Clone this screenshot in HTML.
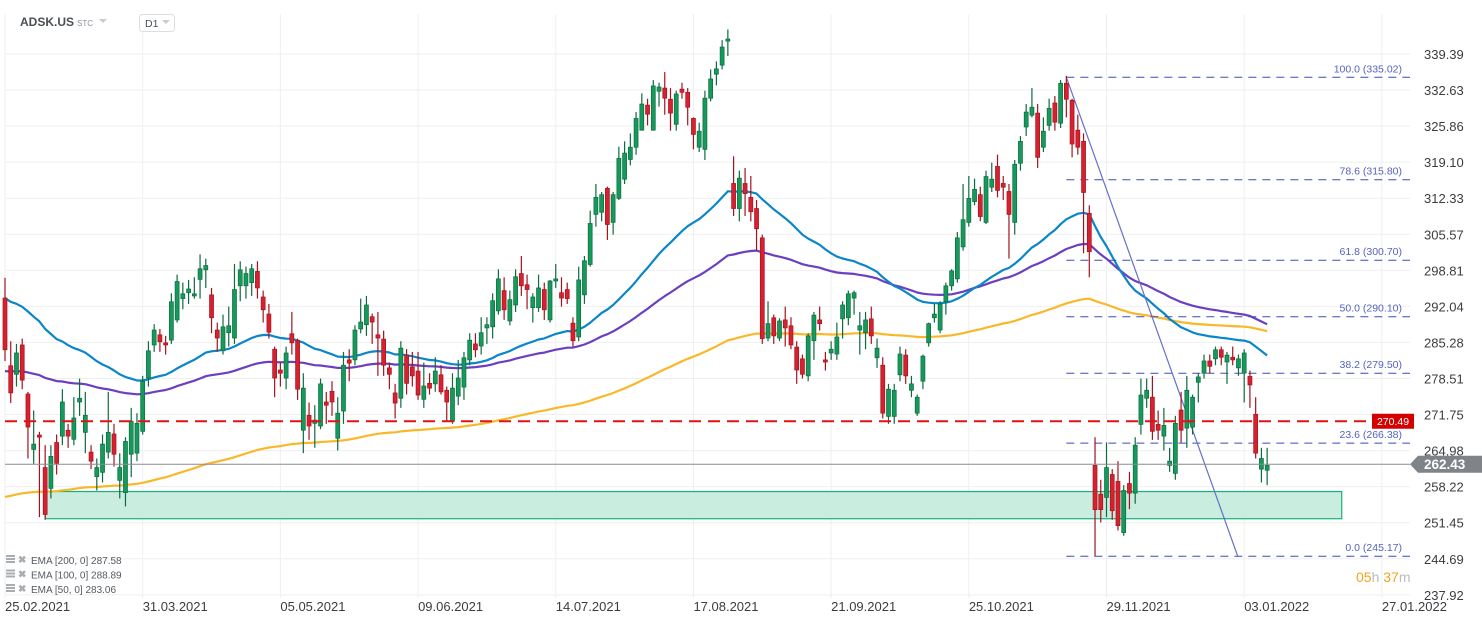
<!DOCTYPE html>
<html><head><meta charset="utf-8">
<style>
html,body{margin:0;padding:0;background:#fff;}
body{width:1482px;height:622px;overflow:hidden;font-family:"Liberation Sans",sans-serif;}
svg text{font-family:"Liberation Sans",sans-serif;}
</style></head>
<body>
<svg id="chart" width="1482" height="622" viewBox="0 0 1482 622" xmlns="http://www.w3.org/2000/svg">
  <g id="grid"></g>
  <g id="zone"></g>
  <g id="emas"></g>
  <g id="fib"></g>
  <g id="candles"></g>
  <g id="levels"></g>
  <g id="yaxis"></g>
  <g id="xaxis"></g>
  <g>
    <text x="20" y="26" font-size="12" font-weight="bold" fill="#4a4f55">ADSK.US</text>
    <text x="77" y="26" font-size="8" fill="#8a9098">STC</text>
    <path d="M99 19 L107 19 L103 23 Z" fill="#c8ccd0"/>
    <rect x="139.5" y="14.5" width="35" height="17" rx="3" fill="#fff" stroke="#dcdfe2"/>
    <text x="145" y="27" font-size="10.5" fill="#4a4f55">D1</text>
    <path d="M162 20 L170 20 L166 24 Z" fill="#c8ccd0"/>
  </g>
  <g id="legend"></g>
  <g>
    <text x="1356" y="582" font-size="14"><tspan fill="#f5a31a">05</tspan><tspan fill="#b8bcc0">h </tspan><tspan fill="#f5a31a">37</tspan><tspan fill="#b8bcc0">m</tspan></text>
  </g>
</svg>
<script>
const opens=[293.6,280.9,279.3,284.8,275.6,265.2,267.9,261.8,257.9,266.5,267.7,268.8,267.1,274.1,268.4,264.7,260.1,260.9,264.7,268.1,259.4,257.1,264.3,264.5,268.6,278.6,284.8,286.7,285.2,285.7,289.5,293.5,294.6,294.0,297.1,298.9,294.2,287.6,283.7,287.1,286.1,295.9,295.9,296.5,298.6,293.8,290.6,284.0,280.1,278.6,286.9,285.6,268.8,271.6,270.1,269.6,274.1,276.1,267.3,272.4,282.0,282.0,287.8,288.6,290.1,286.7,285.9,280.5,275.8,274.8,282.9,280.7,279.9,274.6,277.6,277.5,279.2,276.3,270.5,275.2,276.9,282.0,285.0,284.6,288.0,288.2,291.2,295.0,289.3,292.3,298.2,296.1,291.8,291.8,295.2,289.5,296.8,294.6,295.2,288.9,286.3,294.2,299.9,309.3,309.7,314.2,307.8,312.3,315.9,319.6,321.9,325.1,329.8,325.1,332.4,333.0,330.9,326.2,332.8,332.2,327.3,321.9,321.5,331.1,335.6,337.3,341.8,315.1,310.4,315.1,312.5,310.4,304.9,286.1,289.9,286.1,289.5,288.4,284.4,282.2,279.0,285.6,289.5,282.0,283.3,283.1,289.7,289.9,293.6,287.6,287.1,289.7,282.4,281.0,271.4,271.4,279.2,282.9,276.3,272.0,278.0,285.2,289.9,287.6,292.9,295.9,297.2,303.2,307.8,311.7,313.0,307.8,314.4,318.3,315.1,313.6,307.8,318.9,325.7,327.9,328.3,321.9,326.0,330.2,326.4,333.9,330.7,325.1,323.0,309.5,262.2,256.8,256.2,260.5,259.2,249.6,258.8,257.0,269.9,274.8,275.0,269.9,267.7,262.2,260.7,272.6,269.2,269.4,277.8,279.5,281.8,282.2,283.9,281.6,282.5,280.5,279.5,278.9,271.8,261.5,261.3];
const closes=[283.9,275.8,283.3,278.2,269.4,266.2,267.5,253.0,263.9,262.6,274.1,267.7,271.1,274.8,271.6,263.0,261.8,266.2,268.4,264.3,261.8,266.7,270.5,270.1,278.0,283.7,287.6,285.4,284.8,292.9,296.7,294.4,295.3,294.4,299.1,299.7,289.9,286.1,288.2,288.4,295.2,298.9,298.2,299.1,295.5,291.4,287.2,278.6,279.5,283.3,285.2,276.5,276.7,269.6,270.7,277.5,273.5,274.1,272.0,281.0,281.4,287.6,289.1,292.3,289.1,286.1,281.0,279.3,273.9,284.2,277.6,279.0,275.4,277.1,276.7,279.9,276.0,274.1,276.7,278.6,282.4,285.7,283.9,287.1,288.6,293.1,297.2,291.4,293.3,297.6,295.9,295.2,293.8,295.5,291.4,296.8,297.2,293.6,293.5,285.6,297.0,300.6,307.6,312.5,313.0,307.4,313.0,319.8,320.8,321.9,327.3,330.0,328.1,333.4,333.2,331.1,328.3,331.9,332.2,329.4,324.3,324.9,331.1,334.7,336.6,340.7,342.2,310.4,316.1,313.2,309.8,306.6,286.0,288.8,286.5,289.3,288.0,284.8,280.1,279.3,286.5,290.4,288.8,281.6,284.0,286.3,292.3,294.4,294.6,288.4,289.5,286.5,284.2,272.0,276.5,276.3,283.1,279.0,277.5,275.0,282.7,288.8,290.6,292.5,295.9,298.7,304.9,308.3,312.3,314.0,308.9,316.4,315.9,313.8,314.4,309.3,318.7,323.0,328.5,329.4,320.0,324.9,329.2,326.6,333.9,330.9,322.5,321.9,313.4,302.3,253.9,253.9,261.8,253.7,250.9,257.5,257.0,266.0,275.4,276.3,268.6,268.8,269.7,263.0,270.1,268.8,276.3,275.0,278.8,281.8,280.8,283.9,282.5,282.9,282.0,282.2,283.3,277.3,264.5,263.5,262.2];
const highs=[297.4,285.5,285.0,286.0,276.0,272.5,268.5,266.0,266.0,268.0,276.5,270.0,275.0,278.5,276.0,266.0,263.5,268.0,276.0,270.0,264.5,267.5,273.0,272.0,279.0,285.5,288.7,287.8,286.5,294.5,298.0,296.5,297.0,297.5,301.8,301.0,295.5,289.0,290.5,292.0,300.0,300.5,299.5,300.0,300.5,295.0,292.5,284.5,281.5,284.5,291.0,286.0,279.5,274.0,273.5,278.5,276.0,278.0,275.0,283.5,284.0,288.5,293.5,294.0,290.7,291.0,287.5,281.5,277.5,285.5,284.0,283.5,283.5,281.5,279.5,282.5,281.0,277.0,279.5,282.0,283.5,287.0,287.0,290.0,290.0,294.5,299.0,297.5,295.0,299.0,301.5,298.0,294.5,298.0,296.5,297.0,300.0,297.5,296.5,290.0,299.5,301.5,310.0,315.0,313.5,314.5,313.5,322.0,323.0,324.5,328.5,332.0,331.0,334.5,334.0,336.0,333.0,332.5,334.0,333.0,327.5,326.5,332.5,336.5,338.0,342.0,344.0,320.2,317.5,318.0,316.5,312.0,305.5,293.0,290.5,289.8,292.0,290.0,285.5,283.0,287.0,291.0,292.0,283.5,285.5,289.0,293.0,295.0,295.0,291.0,291.0,292.0,286.0,282.5,277.5,277.5,284.5,284.0,279.0,275.5,283.0,289.0,292.5,293.0,296.5,299.0,306.0,315.0,316.5,316.0,314.5,317.5,319.0,320.5,316.5,315.0,319.5,324.0,330.0,333.0,330.0,327.5,331.0,331.5,334.5,335.3,331.0,328.0,324.5,311.0,267.5,259.5,266.5,261.5,263.0,258.5,261.0,267.5,278.5,278.5,279.0,272.5,273.0,265.5,271.5,276.0,279.0,275.5,279.5,283.0,283.0,284.5,284.5,283.5,284.5,283.0,284.0,280.0,275.0,265.5,265.5];
const lows=[281.8,273.9,277.0,276.5,263.5,262.5,252.5,252.0,256.0,260.5,266.0,265.5,266.0,271.5,264.5,261.5,257.5,259.0,263.5,262.0,256.0,254.5,260.0,263.0,268.0,277.0,283.5,283.5,283.0,285.0,289.0,291.5,292.5,293.5,293.5,295.5,287.0,283.5,283.0,284.5,285.0,293.0,293.5,294.0,293.5,289.0,286.0,275.0,277.0,276.5,283.0,274.5,264.5,267.0,265.5,269.0,270.0,271.5,265.0,270.0,278.0,281.0,287.0,286.5,285.0,279.0,279.0,276.5,271.0,273.0,275.5,277.0,274.5,273.0,275.5,276.0,275.5,270.5,270.0,273.5,274.5,281.0,282.5,283.0,285.0,286.0,290.5,289.5,288.5,291.0,294.0,291.5,289.0,291.0,289.5,289.0,295.5,292.0,292.5,284.5,285.5,292.5,299.5,307.0,308.0,304.5,305.5,312.0,315.0,318.5,320.5,325.0,326.0,325.0,329.5,328.0,325.0,325.0,331.0,326.0,321.5,321.0,319.5,330.5,333.5,336.5,339.0,309.0,308.0,309.0,308.0,302.5,285.0,285.5,285.0,285.5,284.5,284.0,277.5,278.5,278.0,282.0,287.5,280.0,282.0,282.0,286.0,288.5,290.5,283.0,284.0,285.0,280.5,271.0,270.0,270.0,278.0,277.5,275.0,271.5,276.5,284.5,289.0,287.0,290.5,295.0,296.5,302.5,307.0,311.0,308.0,307.5,313.5,312.5,312.0,301.0,305.5,317.5,324.0,327.5,318.0,321.0,325.0,325.0,325.5,327.5,320.0,320.5,302.0,297.5,245.2,251.5,252.5,252.0,250.0,249.0,254.0,255.0,268.0,273.0,267.0,267.0,265.0,261.0,259.5,266.5,265.5,268.0,274.0,278.5,279.5,281.0,281.0,277.5,281.0,279.0,274.0,273.0,263.5,259.0,258.5];
const yTicks=[339.39,332.63,325.86,319.10,312.33,305.57,298.81,292.04,285.28,278.51,271.75,264.98,258.22,251.45,244.69,237.92];
const dateLabels=['25.02.2021','31.03.2021','05.05.2021','09.06.2021','14.07.2021','17.08.2021','21.09.2021','25.10.2021','29.11.2021','03.01.2022','27.01.2022'];
const dateIndex=[0,24,48,72,96,120,144,168,192,216,240];
const emaPeriods=[200,100,50];
const emaSeeds=[256.3,279.9,293.6];
const emaNames=['EMA [200,  0] 287.58','EMA [100,  0] 288.89','EMA [50,  0] 283.06'];
const fibLevels=[335.02,315.80,300.70,290.10,279.50,266.38,245.17];
const fibPct=['100.0','78.6','61.8','50.0','38.2','23.6','0.0'];
const fibStartIndex=185;
const fibEndIndex=214;
const resistance=270.49;
const lastPrice=262.43;
const zoneTop=257.3, zoneBottom=252.2, zoneStart=7, zoneEnd=233;

const NS='http://www.w3.org/2000/svg';
const X0=5, DX=5.737, PLOT_R=1410;
const xs=i=>X0+i*DX;
const ys=p=>54+(339.39-p)*5.33;
function mk(tag,attrs,parent){const e=document.createElementNS(NS,tag);for(const k in attrs)e.setAttribute(k,attrs[k]);parent.appendChild(e);return e;}

const grid=document.getElementById('grid'), yax=document.getElementById('yaxis');
yTicks.forEach(v=>{
  const l=mk('line',{x1:5,x2:PLOT_R,y1:ys(v),y2:ys(v),stroke:'#efefef','stroke-width':1},grid);
  
  
  const t=mk('text',{x:1424,y:ys(v)+5,'font-size':13,fill:'#3a3d40'},yax);
  t.textContent=v.toFixed(2);
  
  
});
const xax=document.getElementById('xaxis');
dateLabels.forEach((d,k)=>{
  const x=xs(dateIndex[k]);
  const l=mk('line',{x1:x,x2:x,y1:14,y2:598,stroke:'#efefef','stroke-width':1},grid);
  
  
  const t=mk('text',{x:x,y:611,'font-size':13,fill:'#3a3d40'},xax);
  t.textContent=d;
  
  
});

const zg=document.getElementById('zone');
const zr=mk('rect',{x:xs(zoneStart),y:ys(zoneTop),width:xs(zoneEnd)-xs(zoneStart),height:ys(zoneBottom)-ys(zoneTop),fill:'#c9eddf',stroke:'#19b07a','stroke-width':1.2},zg);



const emaColors=['#f9b82a','#6b3fbf','#0a86c9'];
const eg=document.getElementById('emas');
emaPeriods.forEach((n,k)=>{
  const a=2/(n+1); let e=emaSeeds[k]; const pts=[];
  closes.forEach((c,i)=>{ if(i>0) e=e+a*(c-e); pts.push(xs(i).toFixed(1)+','+ys(e).toFixed(1)); });
  const pl=mk('polyline',{points:pts.join(' '),fill:'none',stroke:emaColors[k],'stroke-width':2.2,'stroke-linejoin':'round'},eg);
  
  
});

const fg=document.getElementById('fib');
const fx1=xs(fibStartIndex);
fibLevels.forEach((v,k)=>{
  const l=mk('line',{x1:fx1,x2:PLOT_R,y1:ys(v),y2:ys(v),stroke:'#3a4bb8','stroke-width':1,'stroke-dasharray':'8 6'},fg);
  
  
  const t=mk('text',{x:1402,y:ys(v)-5,'font-size':10.5,fill:'#5563c0','text-anchor':'end'},fg);
  t.textContent=fibPct[k]+' ('+v.toFixed(2)+')';
  
  
});
const tl=mk('line',{x1:fx1,y1:ys(fibLevels[0]),x2:xs(fibEndIndex)+5,y2:ys(fibLevels[6]),stroke:'#6570c8','stroke-width':1.2},fg);



const cg=document.getElementById('candles');
closes.forEach((c,i)=>{
  const o=opens[i], up=c>=o, x=xs(i);
  const fill=up?'#159a5c':'#d8212f', st=up?'#0d6b3f':'#a5121f';
  const g=mk('g',{},cg);
  
  
  mk('line',{x1:x,x2:x,y1:ys(highs[i]),y2:ys(lows[i]),stroke:st,'stroke-width':1.2},g);
  const top=ys(Math.max(o,c)), h=Math.max(1.5,Math.abs(ys(o)-ys(c)));
  mk('rect',{x:x-2,y:top,width:4,height:h,fill:fill,stroke:st,'stroke-width':0.7},g);
});

const lg=document.getElementById('levels');
const rl=mk('line',{x1:5,x2:1372,y1:ys(resistance),y2:ys(resistance),stroke:'#e01212','stroke-width':2,'stroke-dasharray':'12 7'},lg);


const rb=mk('rect',{x:1372,y:ys(resistance)-7.5,width:42,height:15,fill:'#d40000'},lg);


const rt=mk('text',{x:1393,y:ys(resistance)+4,'font-size':10.5,fill:'#fff','text-anchor':'middle'},lg);
rt.textContent=resistance.toFixed(2);


const ly=ys(lastPrice);
const ll=mk('line',{x1:5,x2:PLOT_R,y1:ly,y2:ly,stroke:'#8a8e92','stroke-width':1},lg);


const lp=mk('polygon',{points:`1410,${ly} 1418,${ly-8.5} 1482,${ly-8.5} 1482,${ly+8.5} 1418,${ly+8.5}`,fill:'#7e8488'},lg);


const lt=mk('text',{x:1424,y:ly+5,'font-size':13.5,'font-weight':'bold',fill:'#fff'},lg);
lt.textContent=lastPrice.toFixed(2);



const leg=document.getElementById('legend');
emaNames.forEach((s,k)=>{
  const y=561+k*14.5;
  const ic=mk('g',{},leg);
  
  
  mk('rect',{x:6,y:y-6,width:9,height:2,fill:'#a8adb2'},ic);
  mk('rect',{x:6,y:y-3,width:9,height:2,fill:'#a8adb2'},ic);
  mk('rect',{x:6,y:y,width:9,height:2,fill:'#a8adb2'},ic);
  const x=mk('text',{x:18,y:y+2,'font-size':10,fill:'#a8adb2','font-weight':'bold'},leg);
  x.textContent='✖';
  
  
  const t=mk('text',{x:31,y:y+3,'font-size':10,fill:'#555a60'},leg);
  t.textContent=s;
  
  
});
</script>
</body></html>
